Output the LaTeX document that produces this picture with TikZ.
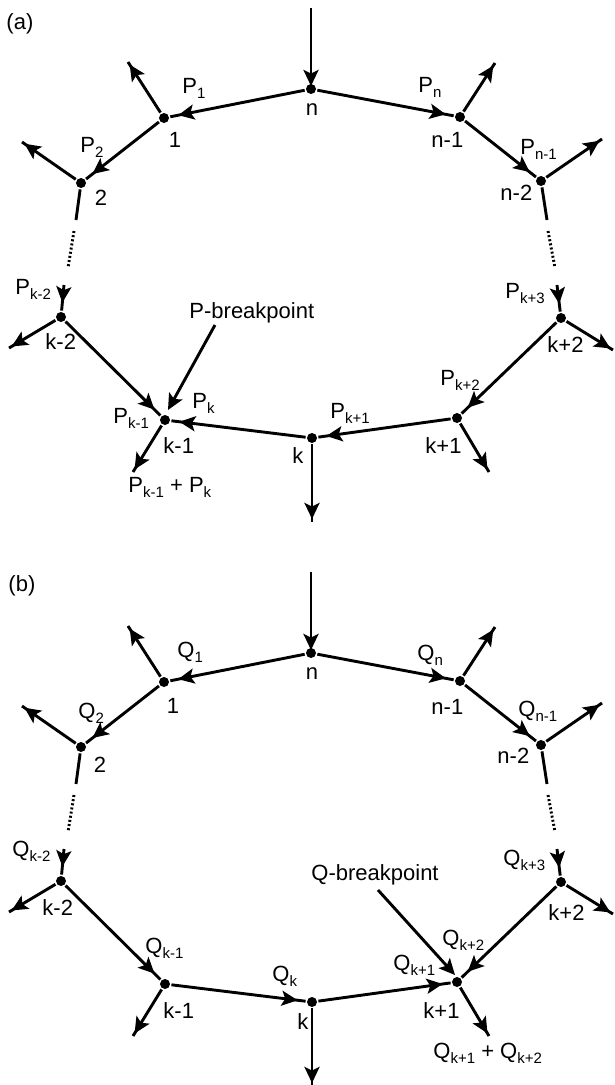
\documentclass[tikz,border=0pt]{standalone}
\usepackage{fontspec}
\setmainfont{Liberation Sans}
\usetikzlibrary{arrows.meta,decorations.markings}
\newcommand{\sbs}[1]{\raisebox{-5pt}{\fontsize{15}{15}\selectfont #1}}
\tikzset{
  flow/.style={postaction={decorate},decoration={markings,mark=at position -8pt with {\arrow{Stealth[length=16pt,width=15pt,inset=3.5pt]}}}},
  outarr/.style={postaction={decorate},decoration={markings,mark=at position -3pt with {\arrow{Stealth[length=16pt,width=15pt,inset=3.5pt]}}}},
  ptr/.style={-{Stealth[length=16pt,width=15pt,inset=3.5pt]}},
  dotted line/.style={dash pattern=on 2pt off 2.2pt},
  dot/.style={circle,fill,inner sep=0pt,minimum size=10pt},
  lbl/.style={anchor=base west,inner sep=0pt,font=\fontsize{22}{22}\selectfont},
  lblc/.style={anchor=base,inner sep=0pt,font=\fontsize{22}{22}\selectfont},
}
\begin{document}
\begin{tikzpicture}[x=1pt,y=-1pt,line width=2.9pt]
\useasboundingbox (0,0) rectangle (614,1085);
% ---------------- panel (a) ----------------
\node[lbl] (alab) at (5,29) {(a)};
\node[dot] (an) at (311,89) {};
\node[dot] (a1) at (164,118) {};
\node[dot] (a2) at (81,183) {};
\node[dot] (anm1) at (460,117) {};
\node[dot] (anm2) at (541,181) {};
\node[dot] (akm2) at (61,317) {};
\node[dot] (akm1) at (165,420) {};
\node[dot] (ak) at (312,438) {};
\node[dot] (akp1) at (457,418) {};
\node[dot] (akp2) at (561,318) {};
\coordinate (atop) at (311,8);
\coordinate (ao1) at (128,62);
\coordinate (ao2) at (22,142);
\coordinate (aonm1) at (495,63);
\coordinate (aonm2) at (602,139);
\coordinate (aokm2) at (9,348);
\coordinate (aokm1) at (133,472);
\coordinate (aokp1) at (489,472);
\coordinate (aokp2) at (613,350);
\coordinate (aok) at (312,522);
\coordinate (als) at (76,220);
\coordinate (alda) at (74,231);
\coordinate (aldb) at (68,268);
\coordinate (alp) at (64,285);
\coordinate (ars) at (547,220);
\coordinate (arda) at (548,231);
\coordinate (ardb) at (555,268);
\coordinate (arp) at (557,285);
\coordinate (abp) at (215,325);
\coordinate (abpt) at (168,410);
\draw[outarr] (atop) -- (an.center);
\draw[flow] (an) -- (a1);
\draw[flow] (a1) -- (a2);
\draw[flow] (an) -- (anm1);
\draw[flow] (anm1) -- (anm2);
\draw (a2) -- (als);
\draw[dotted line] (alda) -- (aldb);
\draw[flow] (alp) -- (akm2);
\draw (anm2) -- (ars);
\draw[dotted line] (arda) -- (ardb);
\draw[flow] (arp) -- (akp2);
\draw[flow] (akm2) -- (akm1);
\draw[flow] (ak) -- (akm1);
\draw[flow] (akp1) -- (ak);
\draw[flow] (akp2) -- (akp1);
\draw[outarr] (a1) -- (ao1);
\draw[outarr] (a2) -- (ao2);
\draw[outarr] (anm1) -- (aonm1);
\draw[outarr] (anm2) -- (aonm2);
\draw[outarr] (akm2) -- (aokm2);
\draw[outarr] (akm1) -- (aokm1);
\draw[outarr] (akp1) -- (aokp1);
\draw[outarr] (akp2) -- (aokp2);
\draw[outarr] (ak) -- (aok);
\draw[ptr] (abp) -- (abpt);
\node[lblc] at (312,115) {n};
\node[lblc] at (175,147) {1};
\node[lblc] at (101,205) {2};
\node[lbl] at (181,93) {P\sbs{1}};
\node[lbl] at (79,152) {P\sbs{2}};
\node[lbl] at (417,92) {P\sbs{n}};
\node[lbl] at (430,147) {n-1};
\node[lbl] at (519,154) {P\sbs{n-1}};
\node[lbl] at (499,200) {n-2};
\node[lbl] at (14,294) {P\sbs{k-2}};
\node[lbl] at (44,349) {k-2};
\node[lbl] at (188,318) {P-breakpoint};
\node[lbl] at (112,423) {P\sbs{k-1}};
\node[lbl] at (191,408) {P\sbs{k}};
\node[lbl] at (162,453) {k-1};
\node[lbl] at (127,492) {P\sbs{k-1} + P\sbs{k}};
\node[lbl] at (291,463) {k};
\node[lbl] at (329,418) {P\sbs{k+1}};
\node[lbl] at (439,385) {P\sbs{k+2}};
\node[lbl] at (424,453) {k+1};
\node[lbl] at (546,352) {k+2};
\node[lbl] at (504,298) {P\sbs{k+3}};
% ---------------- panel (b) ----------------
\begin{scope}[shift={(0,564)}]
\node[lbl] (blab) at (7,27) {(b)};
\node[dot] (bn) at (311,89) {};
\node[dot] (b1) at (164,118) {};
\node[dot] (b2) at (81,183) {};
\node[dot] (bnm1) at (460,117) {};
\node[dot] (bnm2) at (541,181) {};
\node[dot] (bkm2) at (61,317) {};
\node[dot] (bkm1) at (165,420) {};
\node[dot] (bk) at (312,438) {};
\node[dot] (bkp1) at (457,418) {};
\node[dot] (bkp2) at (561,318) {};
\coordinate (btop) at (311,8);
\coordinate (bo1) at (128,62);
\coordinate (bo2) at (22,142);
\coordinate (bonm1) at (495,63);
\coordinate (bonm2) at (602,139);
\coordinate (bokm2) at (9,348);
\coordinate (bokm1) at (133,472);
\coordinate (bokp1) at (489,472);
\coordinate (bokp2) at (613,350);
\coordinate (bok) at (312,522);
\coordinate (bls) at (76,220);
\coordinate (blda) at (74,231);
\coordinate (bldb) at (68,268);
\coordinate (blp) at (64,285);
\coordinate (brs) at (547,220);
\coordinate (brda) at (548,231);
\coordinate (brdb) at (555,268);
\coordinate (brp) at (557,285);
\coordinate (bbp) at (378,326);
\coordinate (bbpt) at (455,411);
\draw[outarr] (btop) -- (bn.center);
\draw[flow] (bn) -- (b1);
\draw[flow] (b1) -- (b2);
\draw[flow] (bn) -- (bnm1);
\draw[flow] (bnm1) -- (bnm2);
\draw (b2) -- (bls);
\draw[dotted line] (blda) -- (bldb);
\draw[flow] (blp) -- (bkm2);
\draw (bnm2) -- (brs);
\draw[dotted line] (brda) -- (brdb);
\draw[flow] (brp) -- (bkp2);
\draw[flow] (bkm2) -- (bkm1);
\draw[flow] (bkm1) -- (bk);
\draw[flow] (bk) -- (bkp1);
\draw[flow] (bkp2) -- (bkp1);
\draw[outarr] (b1) -- (bo1);
\draw[outarr] (b2) -- (bo2);
\draw[outarr] (bnm1) -- (bonm1);
\draw[outarr] (bnm2) -- (bonm2);
\draw[outarr] (bkm2) -- (bokm2);
\draw[outarr] (bkm1) -- (bokm1);
\draw[outarr] (bkp1) -- (bokp1);
\draw[outarr] (bkp2) -- (bokp2);
\draw[outarr] (bk) -- (bok);
\draw[ptr] (bbp) -- (bbpt);
\node[lblc] at (312,115) {n};
\node[lblc] at (173,149) {1};
\node[lblc] at (100,208) {2};
\node[lbl] at (176,93) {Q\sbs{1}};
\node[lbl] at (77,154) {Q\sbs{2}};
\node[lbl] at (416,96) {Q\sbs{n}};
\node[lbl] at (430,150) {n-1};
\node[lbl] at (517,152) {Q\sbs{n-1}};
\node[lbl] at (496,199) {n-2};
\node[lbl] at (11,292) {Q\sbs{k-2}};
\node[lbl] at (41,351) {k-2};
\node[lbl] at (144,389) {Q\sbs{k-1}};
\node[lbl] at (162,454) {k-1};
\node[lbl] at (271,417) {Q\sbs{k}};
\node[lbl] at (296,465) {k};
\node[lbl] at (310,316) {Q-breakpoint};
\node[lbl] at (441,381) {Q\sbs{k+2}};
\node[lbl] at (392,406) {Q\sbs{k+1}};
\node[lbl] at (422,454) {k+1};
\node[lbl] at (547,356) {k+2};
\node[lbl] at (502,301) {Q\sbs{k+3}};
\node[lbl] at (432,494) {Q\sbs{k+1} + Q\sbs{k+2}};
\end{scope}
\end{tikzpicture}
\end{document}
